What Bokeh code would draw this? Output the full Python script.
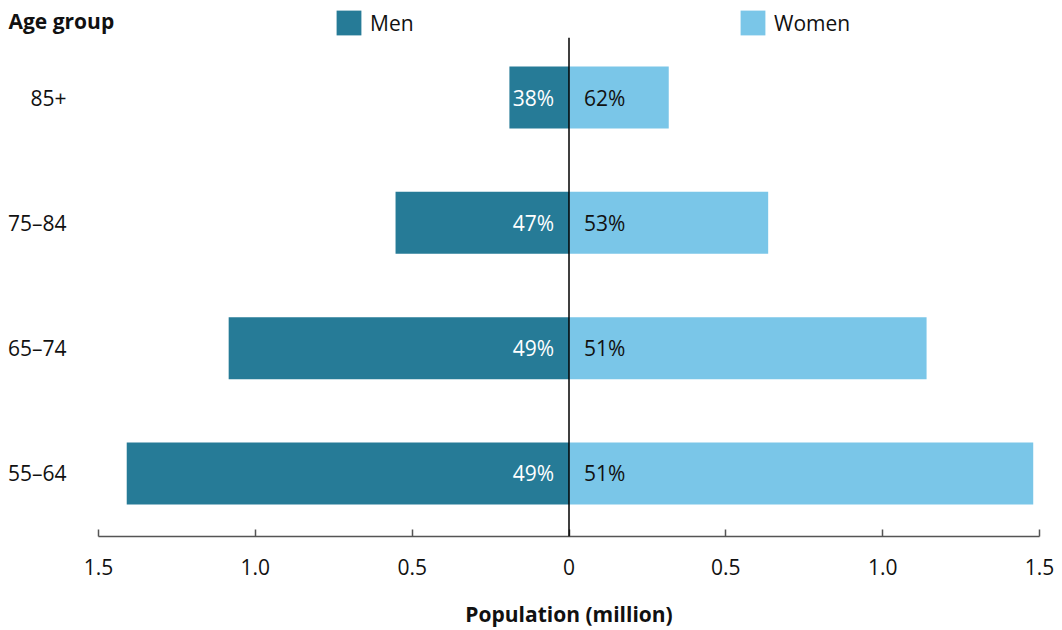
from bokeh.plotting import figure
from bokeh.layouts import column, row
from bokeh.models import (Span, Legend, LegendItem, FixedTicker, Range1d,
                          ColumnDataSource, Label)
from bokeh.core.properties import value
from bokeh.embed import file_html
from bokeh.resources import INLINE

# ---- data ----
age_groups = ["55–64", "65–74", "75–84", "85+"]
men = [1.41, 1.085, 0.553, 0.19]
women = [1.48, 1.14, 0.635, 0.318]
men_pct = ["49%", "49%", "47%", "38%"]
women_pct = ["51%", "51%", "53%", "62%"]
x_ticks = [-1.5, -1.0, -0.5, 0, 0.5, 1.0, 1.5]
x_tick_labels = ["1.5", "1.0", "0.5", "0", "0.5", "1.0", "1.5"]
series_names = ["Men", "Women"]

MEN_C = "#267b97"
WOMEN_C = "#7ac6e8"
FONT = "Open Sans"
FS = "21px"
TXT = "#111111"

pos = list(range(len(age_groups)))
src = ColumnDataSource(dict(
    y=pos,
    men_left=[-m for m in men],
    zero=[0] * len(pos),
    women=women,
    men_pct=men_pct,
    women_pct=women_pct,
))

# ---------------- header (heading + legend) ----------------
head = figure(width=1062, height=37, output_backend="svg", toolbar_location=None,
              x_range=Range1d(0, 1), y_range=Range1d(0, 1),
              x_axis_location=None, y_axis_location=None,
              min_border_left=0, min_border_right=0, min_border_top=0,
              min_border_bottom=0)
head.outline_line_color = None
head.xgrid.visible = False
head.ygrid.visible = False

head.add_layout(Label(x=8, y=17, x_units="screen", y_units="screen",
                      text="Age group", text_font=FONT, text_font_size=FS,
                      text_font_style="bold", text_baseline="middle",
                      text_color=TXT))

# legend swatch renderers (bars kept outside the header's visible range)
h_men = head.hbar(y="y", left="men_left", right="zero", height=0.5, source=src,
                  fill_color=MEN_C, line_color=None)
h_women = head.hbar(y="y", left="zero", right="women", height=0.5, source=src,
                    fill_color=WOMEN_C, line_color=None)
head.y_range = Range1d(10, 11)

for rend, name, xloc in [(h_men, series_names[0], 333),
                         (h_women, series_names[1], 737)]:
    lg = Legend(items=[LegendItem(label=name, renderers=[rend])],
                location=(xloc, -1), orientation="horizontal",
                border_line_color=None, background_fill_alpha=0,
                padding=0, margin=0, spacing=0, label_standoff=6,
                glyph_width=31, glyph_height=31,
                label_text_font=FONT, label_text_font_size=FS,
                label_text_color=TXT)
    head.add_layout(lg, "center")

# ---------------- main chart ----------------
p = figure(width=1062, height=593, output_backend="svg", toolbar_location=None,
           x_range=Range1d(-1.5, 1.5), y_range=Range1d(-0.503, 3.479),
           min_border_left=98, min_border_right=23, min_border_top=0,
           min_border_bottom=94)
p.outline_line_color = None
p.xgrid.visible = False
p.ygrid.visible = False

p.hbar(y="y", left="men_left", right="zero", height=0.495, source=src,
       fill_color=MEN_C, line_color=None)
p.hbar(y="y", left="zero", right="women", height=0.495, source=src,
       fill_color=WOMEN_C, line_color=None)

p.text(x="zero", y="y", text="men_pct", source=src, x_offset=-15,
       text_align="right", text_baseline="middle", text_color="white",
       text_font=value(FONT), text_font_size=FS)
p.text(x="zero", y="y", text="women_pct", source=src, x_offset=15,
       text_align="left", text_baseline="middle", text_color=TXT,
       text_font=value(FONT), text_font_size=FS)

p.add_layout(Span(location=0, dimension="height", line_color="black",
                  line_width=1.5))

xa = p.xaxis[0]
xa.ticker = FixedTicker(ticks=x_ticks)
xa.major_label_overrides = {t: l for t, l in zip(x_ticks, x_tick_labels)}
xa.major_tick_in = 7
xa.major_tick_out = 0
xa.minor_tick_line_color = None
xa.axis_line_color = "#555555"
xa.axis_line_width = 1.5
xa.major_tick_line_color = "#555555"
xa.major_tick_line_width = 1.5
xa.major_label_text_font = FONT
xa.major_label_text_font_size = FS
xa.major_label_text_color = TXT
xa.major_label_standoff = 22
xa.axis_label = "Population (million)"
xa.axis_label_text_font = FONT
xa.axis_label_text_font_size = FS
xa.axis_label_text_font_style = "bold"
xa.axis_label_text_color = TXT
xa.axis_label_standoff = 22

ya = p.yaxis[0]
ya.ticker = FixedTicker(ticks=pos)
ya.major_label_overrides = {i: g for i, g in zip(pos, age_groups)}
ya.axis_line_color = None
ya.major_tick_line_color = None
ya.minor_tick_line_color = None
ya.major_label_text_font = FONT
ya.major_label_text_font_size = FS
ya.major_label_text_color = TXT
ya.major_label_standoff = 26

layout = column(row(head), p, spacing=0)
open("out.html", "w").write(file_html(layout, INLINE))
